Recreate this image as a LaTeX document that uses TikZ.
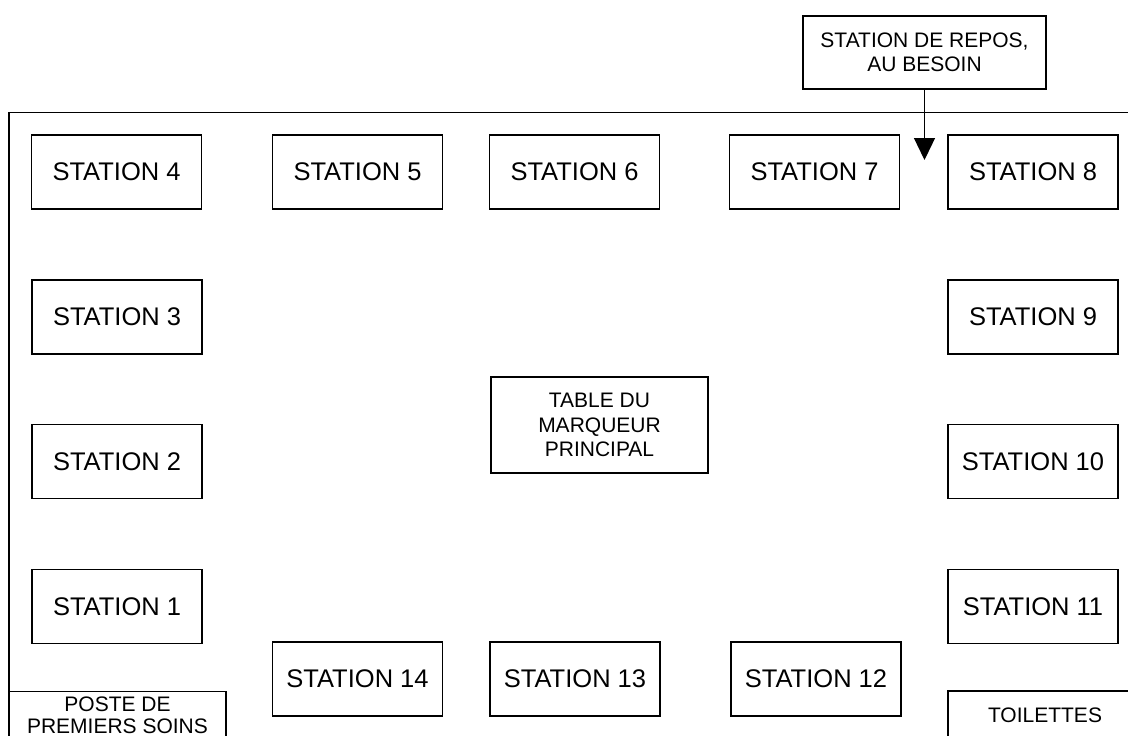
\documentclass[tikz,border=0pt]{standalone}
\usepackage{fontspec}
\setmainfont{Liberation Sans}
\usetikzlibrary{arrows.meta}
\begin{document}
\begin{tikzpicture}[x=1pt,y=-1pt,
  thin line/.style={line width=1.3pt},
  stationbox/.style={draw,thin line,minimum width=170pt,minimum height=74pt,inner sep=0pt,
    font=\fontsize{25.5}{30}\selectfont},
  smallbox/.style={draw,thin line,inner sep=0pt,align=center,
    font=\fontsize{21}{24.5}\selectfont}]
\clip (0,0) rectangle (1128,736);
\useasboundingbox (0,0) rectangle (1128,736);
% outer walls
\draw[thin line] (1130,112.5) -- (9,112.5) -- (9,740);
% stations
\node[stationbox] (s4) at (116.5,172) {STATION 4};
\node[stationbox] (s5) at (357.5,172) {STATION 5};
\node[stationbox] (s6) at (574.5,172) {STATION 6};
\node[stationbox] (s7) at (814.5,172) {STATION 7};
\node[stationbox] (s8) at (1033,172) {STATION 8};
\node[stationbox] (s3) at (117,317) {STATION 3};
\node[stationbox] (s9) at (1033,317) {STATION 9};
\node[stationbox] (s2) at (117,461.5) {STATION 2};
\node[stationbox] (s10) at (1033,461.5) {STATION 10};
\node[stationbox] (s1) at (117,606.5) {STATION 1};
\node[stationbox] (s11) at (1033,606.5) {STATION 11};
\node[stationbox] (s14) at (357.5,679) {STATION 14};
\node[stationbox] (s13) at (575,679) {STATION 13};
\node[stationbox] (s12) at (816,679) {STATION 12};
% table
\node[smallbox,minimum width=217pt,minimum height=96pt] (table) at (599.5,425)
  {TABLE DU\\MARQUEUR\\PRINCIPAL};
% rest station
\node[smallbox,minimum width=243pt,minimum height=73pt] (rest) at (924.5,52.5)
  {STATION DE REPOS,\\AU BESOIN};
\coordinate (arrowtip) at (924.5,160);
\draw[thin line,-{Triangle[length=22pt,width=21pt]}] (rest.south) -- (arrowtip);
% first aid and toilets
\node[smallbox,minimum width=217pt,minimum height=48pt,
  font=\fontsize{21}{21.5}\selectfont] (aid) at (117.5,715.3)
  {POSTE DE\\PREMIERS SOINS};
\node[smallbox,minimum width=194pt,minimum height=48pt] (toil) at (1045,715)
  {TOILETTES};
\end{tikzpicture}
\end{document}
